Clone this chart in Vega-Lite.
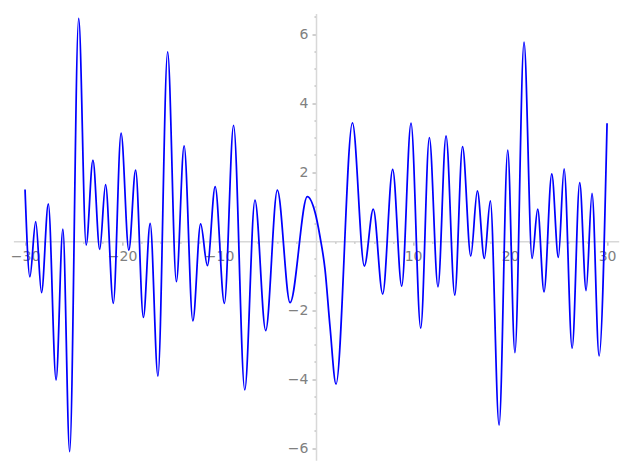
{
  "$schema": "https://vega.github.io/schema/vega-lite/v6.json",
  "width": 605.3,
  "height": 446.8,
  "autosize": {"type": "none"},
  "padding": {"left": 13.4, "top": 13.5, "right": 8.3, "bottom": 9.7},
  "config": {"view": {"stroke": null}, "font": "DejaVu Sans"},
  "data": {
    "values": [
      {"x": -30, "y": 1.50}, {"x": -29.5, "y": -1.03}, {"x": -28.9, "y": 0.57}, {"x": -28.3, "y": -1.49},
      {"x": -27.6, "y": 1.08}, {"x": -26.8, "y": -4.02}, {"x": -26.1, "y": 0.35}, {"x": -25.4, "y": -6.10},
      {"x": -24.47, "y": 6.46}, {"x": -23.7, "y": -0.11}, {"x": -23.0, "y": 2.35}, {"x": -22.3, "y": -0.24},
      {"x": -21.7, "y": 1.64}, {"x": -20.9, "y": -1.80}, {"x": -20.1, "y": 3.13}, {"x": -19.3, "y": -0.26},
      {"x": -18.6, "y": 2.06}, {"x": -17.8, "y": -2.21}, {"x": -17.1, "y": 0.52}, {"x": -16.3, "y": -3.91},
      {"x": -15.3, "y": 5.49}, {"x": -14.4, "y": -1.17}, {"x": -13.6, "y": 2.76}, {"x": -12.7, "y": -2.31},
      {"x": -11.9, "y": 0.50}, {"x": -11.2, "y": -0.71}, {"x": -10.4, "y": 1.58}, {"x": -9.45, "y": -1.80},
      {"x": -8.5, "y": 3.36}, {"x": -7.35, "y": -4.31}, {"x": -6.3, "y": 1.19}, {"x": -5.19, "y": -2.59},
      {"x": -3.99, "y": 1.48}, {"x": -2.68, "y": -1.78}, {"x": -0.9, "y": 1.29}, {"x": -0.1, "y": 0.83},
      {"x": 0.41, "y": 0.13}, {"x": 0.93, "y": -0.83}, {"x": 1.44, "y": -2.48}, {"x": 2.06, "y": -4.14},
      {"x": 3.75, "y": 3.43}, {"x": 4.98, "y": -0.72}, {"x": 5.9, "y": 0.93}, {"x": 6.87, "y": -1.53},
      {"x": 7.9, "y": 2.08}, {"x": 8.83, "y": -1.30}, {"x": 9.79, "y": 3.42}, {"x": 10.79, "y": -2.52},
      {"x": 11.68, "y": 3.0}, {"x": 12.57, "y": -1.32}, {"x": 13.4, "y": 3.05}, {"x": 14.3, "y": -1.56},
      {"x": 15.1, "y": 2.74}, {"x": 15.95, "y": -0.43}, {"x": 16.63, "y": 1.46}, {"x": 17.35, "y": -0.50},
      {"x": 17.97, "y": 1.17}, {"x": 18.87, "y": -5.33}, {"x": 19.76, "y": 2.64}, {"x": 20.5, "y": -3.23},
      {"x": 21.44, "y": 5.77}, {"x": 22.27, "y": -0.50}, {"x": 22.85, "y": 0.93}, {"x": 23.5, "y": -1.47},
      {"x": 24.3, "y": 1.95}, {"x": 24.98, "y": -0.47}, {"x": 25.57, "y": 2.10}, {"x": 26.4, "y": -3.10},
      {"x": 27.18, "y": 1.70}, {"x": 27.84, "y": -1.43}, {"x": 28.45, "y": 1.39}, {"x": 29.18, "y": -3.32},
      {"x": 30, "y": 3.42}
    ]
  },
  "mark": {"type": "line", "color": "#0000ff", "strokeWidth": 1.75, "interpolate": "monotone", "clip": false},
  "encoding": {
    "x": {
      "field": "x", "type": "quantitative",
      "scale": {"domain": [-31.2, 31.2], "nice": false, "zero": false},
      "axis": {
        "title": null, "grid": false, "orient": "bottom", "offset": -219.1,
        "values": [-30,-28,-26,-24,-22,-20,-18,-16,-14,-12,-10,-8,-6,-4,-2,2,4,6,8,10,12,14,16,18,20,22,24,26,28,30],
        "labelExpr": "datum.value % 10 === 0 ? replace(toString(datum.value), '-', '\u2212') : ''",
        "domainColor": "#d8d8d8", "domainWidth": 1.5,
        "tickColor": "#a0a0a0", "tickWidth": 1,
        "tickSize": {"condition": {"test": "datum.value % 10 === 0", "value": 4}, "value": 2},
        "labelColor": "#808080", "labelFontSize": 14, "labelFont": "DejaVu Sans",
        "labelPadding": 4, "labelFlush": false, "labelOverlap": false
      }
    },
    "y": {
      "field": "y", "type": "quantitative",
      "scale": {"domain": [-6.35, 6.6], "nice": false, "zero": false},
      "axis": {
        "title": null, "grid": false, "orient": "left", "offset": -302.6,
        "values": [-6,-5.5,-5,-4.5,-4,-3.5,-3,-2.5,-2,-1.5,-1,-0.5,0.5,1,1.5,2,2.5,3,3.5,4,4.5,5,5.5,6,6.5],
        "labelExpr": "datum.value % 2 === 0 ? replace(toString(datum.value), '-', '\u2212') : ''",
        "domainColor": "#d8d8d8", "domainWidth": 1.5,
        "tickColor": "#a0a0a0", "tickWidth": 1,
        "tickSize": {"condition": {"test": "datum.value % 2 === 0", "value": 4}, "value": 2},
        "labelColor": "#808080", "labelFontSize": 14, "labelFont": "DejaVu Sans",
        "labelPadding": 4, "labelFlush": false, "labelOverlap": false
      }
    }
  }
}
